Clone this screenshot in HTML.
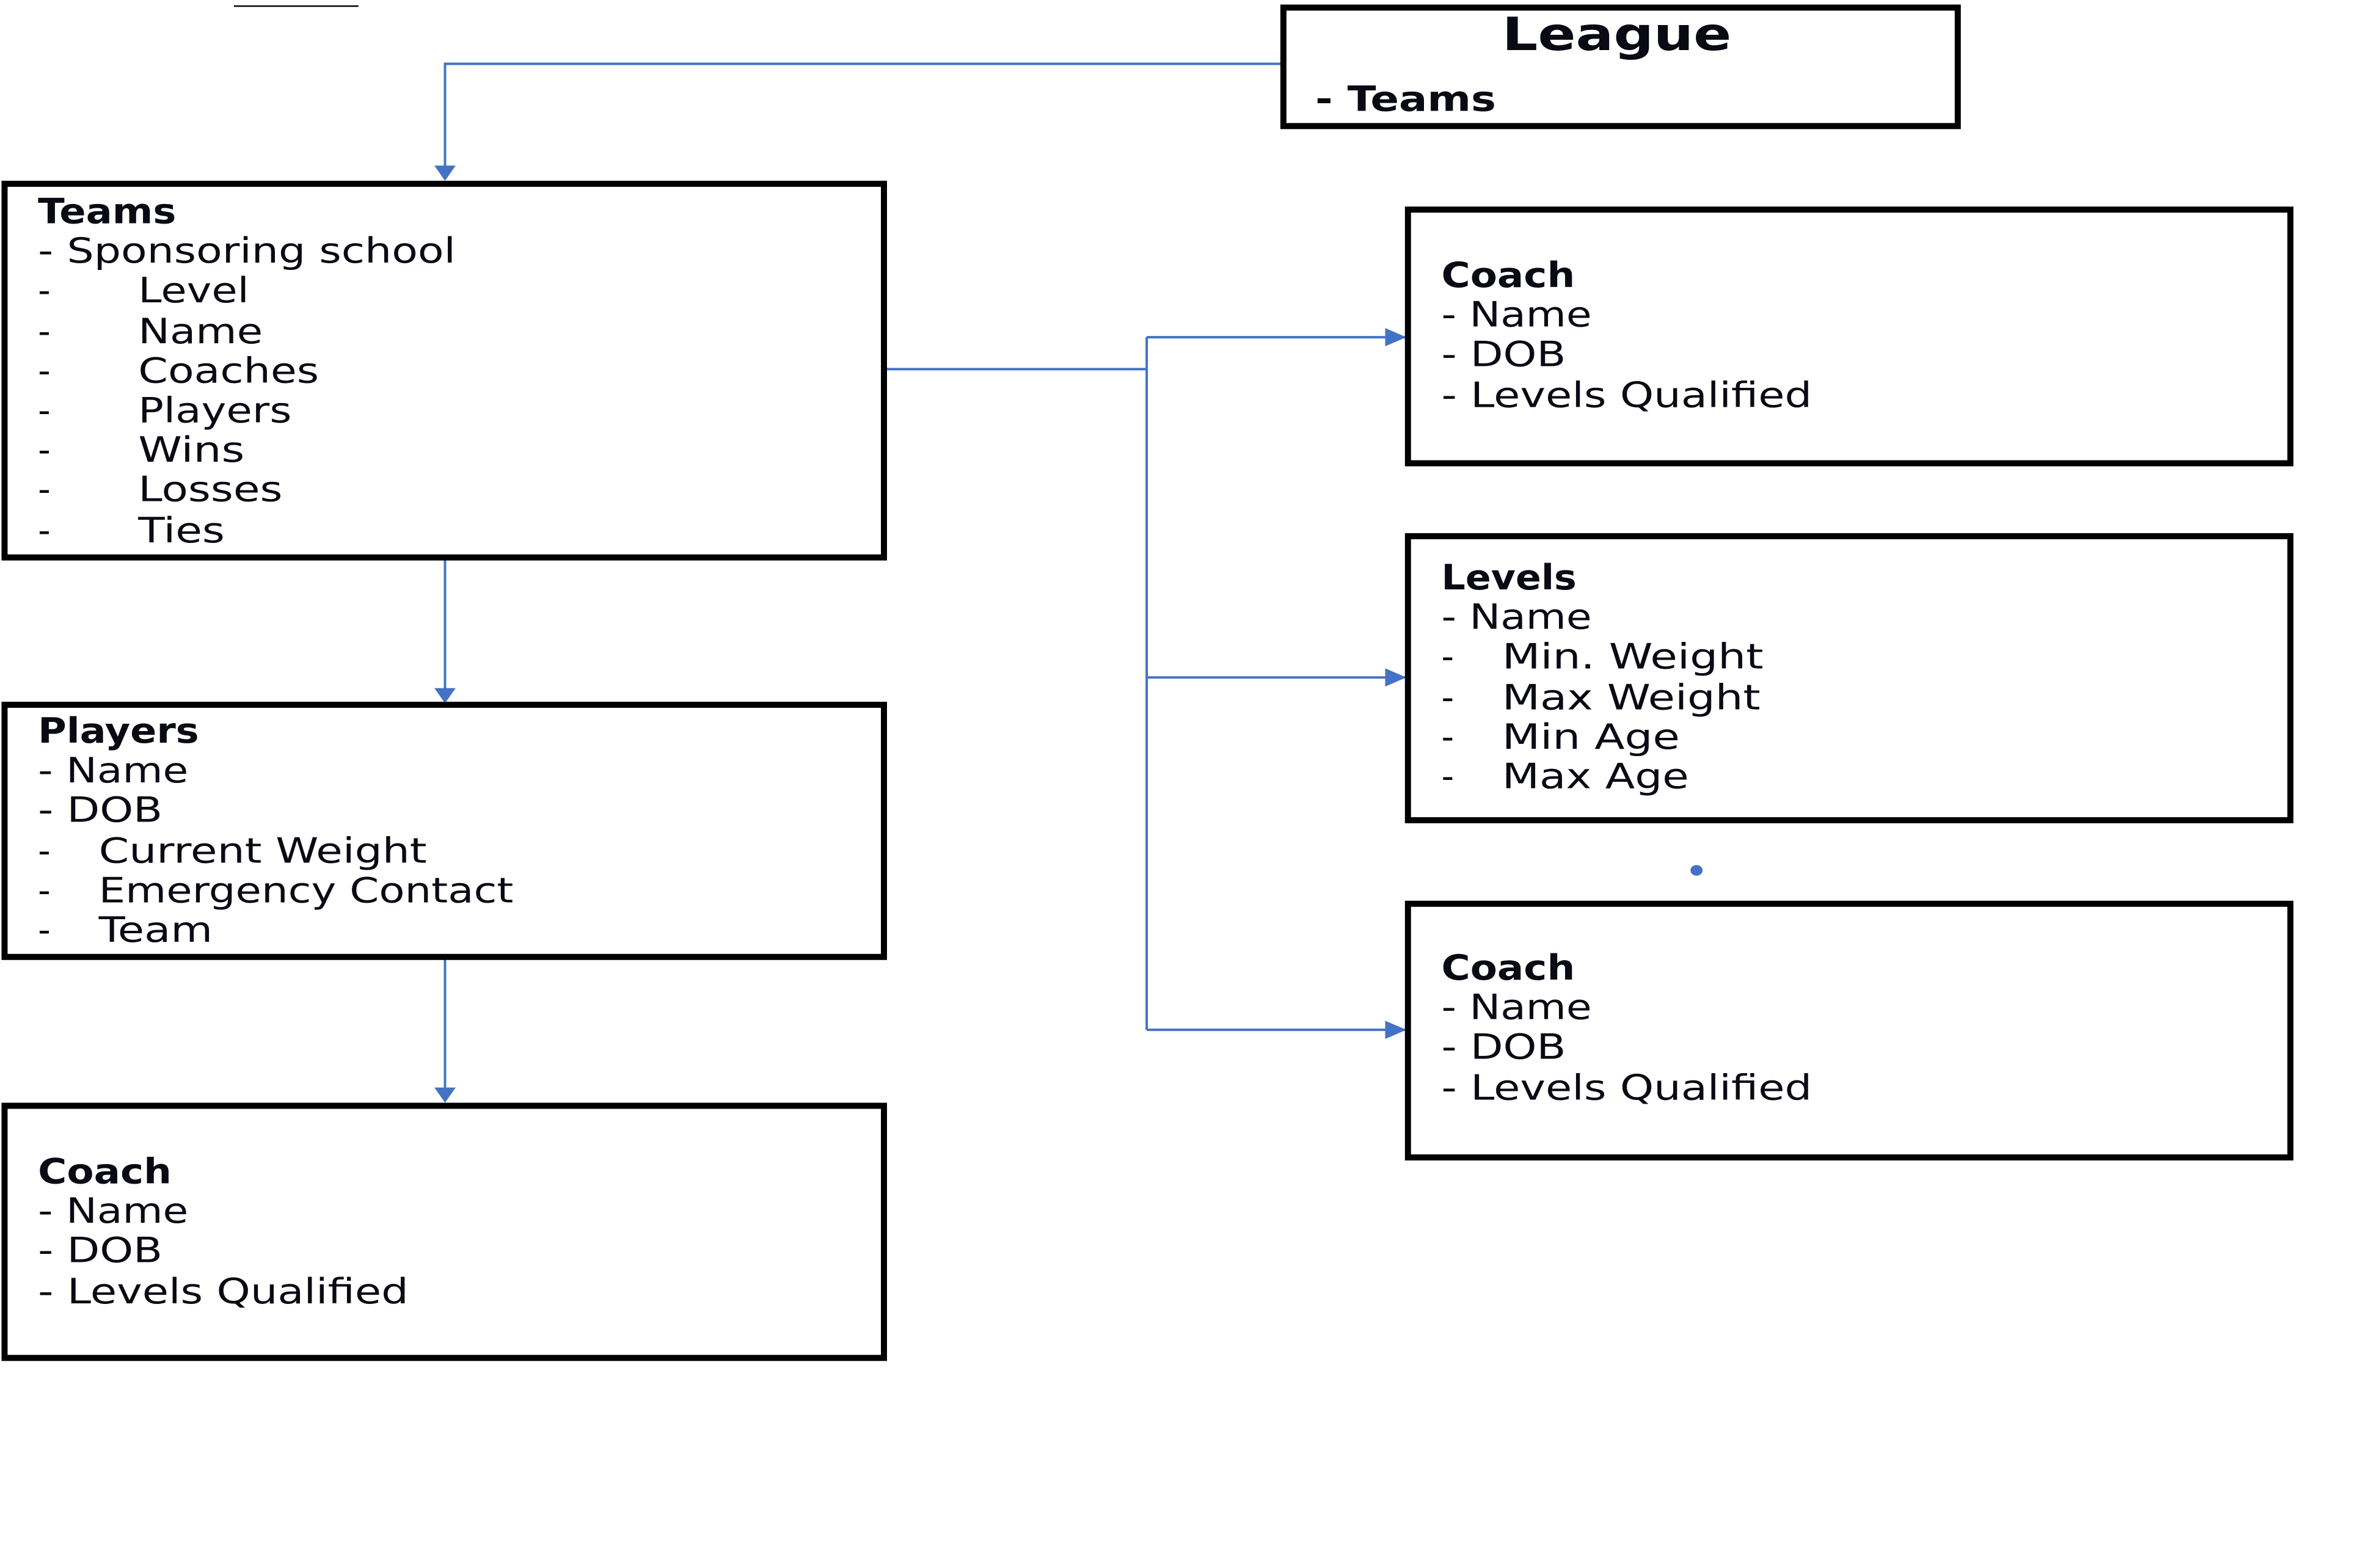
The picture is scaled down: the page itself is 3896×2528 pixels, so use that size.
<!DOCTYPE html>
<html><head><meta charset="utf-8"><style>
html,body{margin:0;padding:0;background:#fff;}
svg{display:block;}
text{font-family:"DejaVu Sans","Liberation Sans",sans-serif;fill:#0a0a14;font-size:23px;}
.b{font-weight:bold;}
</style></head><body>
<svg width="3896" height="2528" viewBox="0 0 1567 1016.5" preserveAspectRatio="none" xmlns="http://www.w3.org/2000/svg">
<line x1="154" y1="4" x2="236" y2="4" stroke="#000" stroke-width="1"/>
<g fill="none" stroke="#4472C4" stroke-width="1.6">
<polyline points="845,42 293,42 293,116"/>
<line x1="293" y1="368" x2="293" y2="460"/>
<line x1="293" y1="631" x2="293" y2="723"/>
<polyline points="582,243 755,243"/>
<polyline points="755,222 755,678"/>
<line x1="755" y1="222" x2="925" y2="222"/>
<line x1="755" y1="446" x2="925" y2="446"/>
<line x1="755" y1="678" x2="925" y2="678"/>
</g>
<g fill="#4472C4">
<path d="M286,109 L300,109 L293,119 z"/><path d="M286,453 L300,453 L293,463 z"/><path d="M286,716 L300,716 L293,726 z"/>
<path d="M912,216 L912,228 L926,222 z"/><path d="M912,440 L912,452 L926,446 z"/><path d="M912,672 L912,684 L926,678 z"/>
<ellipse cx="1117" cy="573" rx="4" ry="3.5"/>
</g>
<g fill="none" stroke="#000" stroke-width="4">
<rect x="845" y="5" width="444" height="78"/>
<rect x="3" y="121" width="579" height="246"/>
<rect x="3" y="464" width="579" height="166"/>
<rect x="3" y="728" width="579" height="166"/>
<rect x="927" y="138" width="581" height="167"/>
<rect x="927" y="353" width="581" height="187"/>
<rect x="927" y="595" width="581" height="167"/>
</g>
<g lengthAdjust="spacingAndGlyphs">
<text class="b" x="989" y="33" style="font-size:30px" textLength="151" lengthAdjust="spacingAndGlyphs">League</text>
<text class="b" x="866" y="73" textLength="119" lengthAdjust="spacingAndGlyphs">-  Teams</text>

<text class="b" x="25" y="147" textLength="91" lengthAdjust="spacingAndGlyphs">Teams</text>
<text x="25" y="173" textLength="275" lengthAdjust="spacingAndGlyphs">- Sponsoring school</text>
<text x="25" y="199">-</text><text x="91" y="199" textLength="73" lengthAdjust="spacingAndGlyphs">Level</text>
<text x="25" y="226">-</text><text x="91" y="226" textLength="82" lengthAdjust="spacingAndGlyphs">Name</text>
<text x="25" y="252">-</text><text x="91" y="252" textLength="119" lengthAdjust="spacingAndGlyphs">Coaches</text>
<text x="25" y="278">-</text><text x="91" y="278" textLength="101" lengthAdjust="spacingAndGlyphs">Players</text>
<text x="25" y="304">-</text><text x="91" y="304" textLength="70" lengthAdjust="spacingAndGlyphs">Wins</text>
<text x="25" y="330">-</text><text x="91" y="330" textLength="95" lengthAdjust="spacingAndGlyphs">Losses</text>
<text x="25" y="357">-</text><text x="91" y="357" textLength="57" lengthAdjust="spacingAndGlyphs">Ties</text>

<text class="b" x="25" y="489" textLength="106" lengthAdjust="spacingAndGlyphs">Players</text>
<text x="25" y="515" textLength="99" lengthAdjust="spacingAndGlyphs">- Name</text>
<text x="25" y="541" textLength="82" lengthAdjust="spacingAndGlyphs">- DOB</text>
<text x="25" y="568">-</text><text x="65" y="568" textLength="216" lengthAdjust="spacingAndGlyphs">Current Weight</text>
<text x="25" y="594">-</text><text x="65" y="594" textLength="273" lengthAdjust="spacingAndGlyphs">Emergency Contact</text>
<text x="25" y="620">-</text><text x="65" y="620" textLength="75" lengthAdjust="spacingAndGlyphs">Team</text>

<text class="b" x="25" y="779" textLength="88" lengthAdjust="spacingAndGlyphs">Coach</text>
<text x="25" y="805" textLength="99" lengthAdjust="spacingAndGlyphs">- Name</text>
<text x="25" y="831" textLength="82" lengthAdjust="spacingAndGlyphs">- DOB</text>
<text x="25" y="858" textLength="244" lengthAdjust="spacingAndGlyphs">- Levels Qualified</text>

<text class="b" x="949" y="189" textLength="88" lengthAdjust="spacingAndGlyphs">Coach</text>
<text x="949" y="215" textLength="99" lengthAdjust="spacingAndGlyphs">- Name</text>
<text x="949" y="241" textLength="82" lengthAdjust="spacingAndGlyphs">- DOB</text>
<text x="949" y="268" textLength="244" lengthAdjust="spacingAndGlyphs">- Levels Qualified</text>

<text class="b" x="949" y="388" textLength="89" lengthAdjust="spacingAndGlyphs">Levels</text>
<text x="949" y="414" textLength="99" lengthAdjust="spacingAndGlyphs">- Name</text>
<text x="949" y="440">-</text><text x="989" y="440" textLength="172" lengthAdjust="spacingAndGlyphs">Min. Weight</text>
<text x="949" y="467">-</text><text x="989" y="467" textLength="170" lengthAdjust="spacingAndGlyphs">Max Weight</text>
<text x="949" y="493">-</text><text x="989" y="493" textLength="117" lengthAdjust="spacingAndGlyphs">Min Age</text>
<text x="949" y="519">-</text><text x="989" y="519" textLength="123" lengthAdjust="spacingAndGlyphs">Max Age</text>

<text class="b" x="949" y="645" textLength="88" lengthAdjust="spacingAndGlyphs">Coach</text>
<text x="949" y="671" textLength="99" lengthAdjust="spacingAndGlyphs">- Name</text>
<text x="949" y="697" textLength="82" lengthAdjust="spacingAndGlyphs">- DOB</text>
<text x="949" y="724" textLength="244" lengthAdjust="spacingAndGlyphs">- Levels Qualified</text>
</g>
</svg>
</body></html>
